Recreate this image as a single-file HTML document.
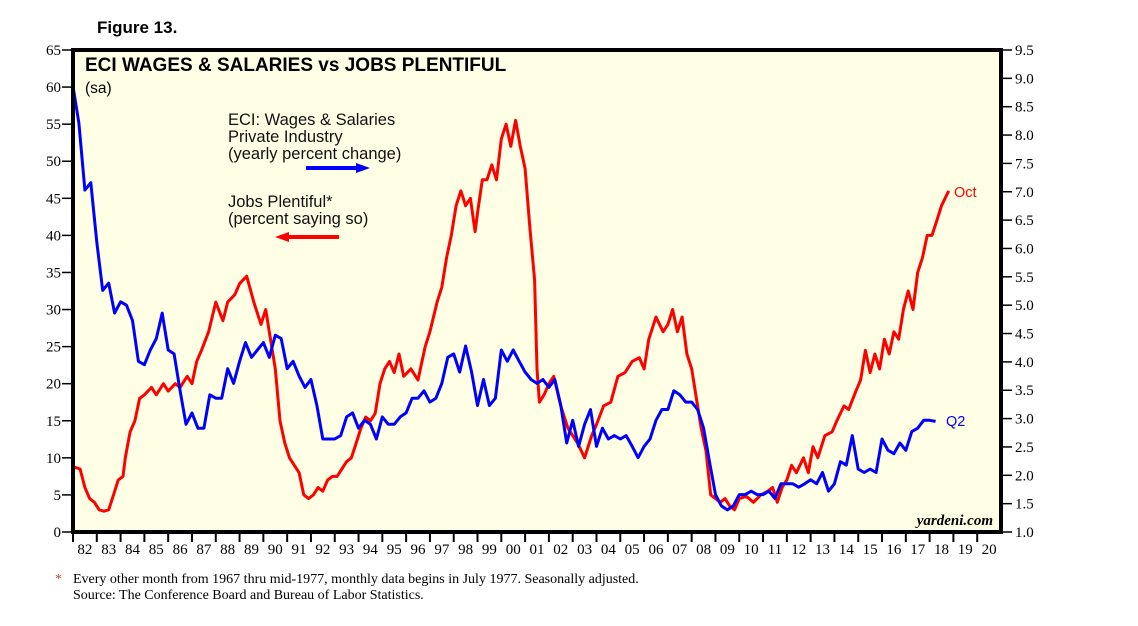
<!DOCTYPE html>
<html><head><meta charset="utf-8"><style>
body{margin:0;background:#fff;width:1138px;height:621px;overflow:hidden}
svg text{font-family:"Liberation Sans",sans-serif}
.serif{font-family:"Liberation Serif",serif !important}
</style></head><body>
<svg id="chart" width="1138" height="621" xmlns="http://www.w3.org/2000/svg">
<rect x="73" y="50" width="928" height="482" fill="#ffffe6"/>
<g id="ticks"></g>
<g id="series"></g>
<rect x="73" y="50" width="928" height="482" fill="none" stroke="#000" stroke-width="4"/>
<text x="97" y="33" font-size="17" font-weight="bold">Figure 13.</text>
<text x="85" y="71" font-size="19" font-weight="bold">ECI WAGES &amp; SALARIES vs JOBS PLENTIFUL</text>
<text x="85" y="93" font-size="15.5">(sa)</text>
<g font-size="16.5" fill="#111">
<text x="228" y="125">ECI: Wages &amp; Salaries</text>
<text x="228" y="142">Private Industry</text>
<text x="228" y="159">(yearly percent change)</text>
<line x1="306" y1="168" x2="358" y2="168" stroke="#0000ff" stroke-width="4"/>
<polygon points="356,163 370,168 356,173" fill="#0000ff"/>
</g>
<g font-size="16.5" fill="#111">
<text x="228" y="207">Jobs Plentiful*</text>
<text x="228" y="224">(percent saying so)</text>
<line x1="287" y1="237" x2="339" y2="237" stroke="#ff0000" stroke-width="4"/>
<polygon points="289,232 275,237 289,242" fill="#ff0000"/>
</g>
<text x="954" y="197" font-size="14.5" fill="#ff0000">Oct</text>
<text x="946" y="426" font-size="14.5" fill="#0000ff">Q2</text>
<text class="serif" x="993" y="525" font-size="15" font-weight="bold" font-style="italic" text-anchor="end">yardeni.com</text>
<text class="serif" x="55" y="583" font-size="14" fill="#a0522d">*</text>
<text class="serif" x="73" y="583" font-size="14">Every other month from 1967 thru mid-1977, monthly data begins in July 1977. Seasonally adjusted.</text>
<text class="serif" x="73" y="599" font-size="14">Source: The Conference Board and Bureau of Labor Statistics.</text>
</svg>
<script>
const leftTicks=[0,5,10,15,20,25,30,35,40,45,50,55,60,65];
const rightTicks=["1.0","1.5","2.0","2.5","3.0","3.5","4.0","4.5","5.0","5.5","6.0","6.5","7.0","7.5","8.0","8.5","9.0","9.5"];
const yearLabels=["82","83","84","85","86","87","88","89","90","91","92","93","94","95","96","97","98","99","00","01","02","03","04","05","06","07","08","09","10","11","12","13","14","15","16","17","18","19","20"];
const jobsDates=[1982.0,1982.3,1982.5,1982.7,1982.9,1983.1,1983.3,1983.5,1983.7,1983.9,1984.1,1984.2,1984.4,1984.6,1984.8,1985.0,1985.3,1985.5,1985.8,1986.0,1986.3,1986.5,1986.8,1987.0,1987.2,1987.4,1987.7,1988.0,1988.3,1988.5,1988.8,1989.0,1989.3,1989.6,1989.9,1990.1,1990.3,1990.5,1990.7,1990.9,1991.1,1991.3,1991.5,1991.7,1991.9,1992.1,1992.3,1992.5,1992.7,1992.9,1993.1,1993.3,1993.5,1993.7,1993.9,1994.1,1994.3,1994.5,1994.7,1994.9,1995.1,1995.3,1995.5,1995.7,1995.9,1996.2,1996.5,1996.8,1997.0,1997.3,1997.5,1997.7,1997.9,1998.1,1998.3,1998.5,1998.7,1998.9,1999.0,1999.2,1999.4,1999.6,1999.8,2000.0,2000.2,2000.4,2000.6,2000.8,2001.0,2001.2,2001.4,2001.5,2001.6,2001.8,2002.0,2002.2,2002.5,2002.8,2003.0,2003.2,2003.5,2003.8,2004.0,2004.3,2004.6,2004.9,2005.2,2005.5,2005.8,2006.0,2006.2,2006.5,2006.8,2007.0,2007.2,2007.4,2007.6,2007.8,2008.0,2008.2,2008.4,2008.6,2008.8,2009.0,2009.2,2009.4,2009.6,2009.8,2010.0,2010.3,2010.6,2010.9,2011.2,2011.4,2011.6,2011.8,2012.0,2012.2,2012.4,2012.7,2012.9,2013.1,2013.3,2013.6,2013.9,2014.1,2014.4,2014.6,2014.9,2015.1,2015.3,2015.5,2015.7,2015.9,2016.1,2016.3,2016.5,2016.7,2016.9,2017.1,2017.3,2017.5,2017.7,2017.9,2018.1,2018.3,2018.5,2018.8];
const jobsValues=[8.8,8.5,6,4.5,4,3,2.8,3,5,7,7.5,10,13.5,15,18,18.5,19.5,18.5,20,19,20,19.5,21,20,23,24.5,27,31,28.5,31,32,33.5,34.5,31,28,30,26,22,15,12,10,9,8,5,4.5,5,6,5.5,7,7.5,7.5,8.5,9.5,10,12,14,15.5,15,16,20,22,23,21.5,24,21,22,20.5,25,27,31,33,37,40,44,46,44,45,40.5,43,47.5,47.5,49.5,47.5,53,55,52,55.5,52,49,41,34,22,17.5,18.5,20,21,17,14,13,12,10,13,14.5,17,17.5,21,21.5,23,23.5,22,26,29,27,28,30,27,29,24,22,18,14,11,5,4.5,4,4.5,3.5,3,4.5,4.8,4,5,5.5,6,4,6,7,9,8,10,8,11.5,10,13,13.5,15,17,16.5,19,20.5,24.5,21.5,24,22,26,24,27,26,30,32.5,30,35,37,40,40,42,44,46];
const eciStart=1982.0;
const eciValues=[8.86,8.21,7.03,7.16, 6.11,5.26,5.39,4.86, 5.06,5.0,4.73,4.01, 3.95,4.21,4.41,4.86, 4.21,4.14,3.49,2.9, 3.1,2.83,2.83,3.42, 3.36,3.36,3.88,3.62, 4.01,4.34,4.08,4.21, 4.34,4.08,4.47,4.41, 3.88,4.01,3.75,3.55, 3.69,3.23,2.64,2.64, 2.64,2.7,3.03,3.1, 2.83,2.97,2.9,2.64, 3.03,2.9,2.9,3.03, 3.1,3.36,3.36,3.49, 3.29,3.36,3.62,4.08, 4.14,3.82,4.28,3.82, 3.23,3.69,3.23,3.36, 4.21,4.01,4.21,4.01, 3.82,3.69,3.62,3.69, 3.55,3.69,3.23,2.57, 2.97,2.51,2.9,3.16, 2.51,2.83,2.64,2.7, 2.64,2.7,2.51,2.31, 2.51,2.64,2.97,3.16, 3.16,3.49,3.42,3.29, 3.29,3.16,2.83,2.24, 1.66,1.46,1.39,1.46, 1.66,1.66,1.72,1.66, 1.66,1.72,1.59,1.85, 1.85,1.85,1.79,1.85, 1.92,1.85,2.05,1.72, 1.85,2.24,2.18,2.7, 2.11,2.05,2.11,2.05, 2.64,2.44,2.38,2.57, 2.44,2.77,2.83,2.97, 2.97,2.95];

const X0=73,X1=1001,YT=50,YB=532;
const x=y=>X0+(y-1982)*(X1-X0)/39;
const yL=v=>YB-v*(YB-YT)/65;
const yR=v=>YB-(v-1)*(YB-YT)/8.5;
const NS="http://www.w3.org/2000/svg";
const tg=document.getElementById('ticks'), sg=document.getElementById('series');
function mk(tag,attrs,parent){const e=document.createElementNS(NS,tag);for(const k in attrs)e.setAttribute(k,attrs[k]);parent.appendChild(e);return e;}
leftTicks.forEach(v=>{
  const l=mk('line',{x1:62,x2:73,y1:yL(v),y2:yL(v),stroke:'#000','stroke-width':1.5},tg);
  
  
  const t=mk('text',{x:61,y:yL(v)+5,'font-size':15,'text-anchor':'end',class:'serif'},tg);
  t.textContent=v;
  
  
});
rightTicks.forEach(s=>{
  const v=parseFloat(s);
  const l=mk('line',{x1:1001,x2:1012,y1:yR(v),y2:yR(v),stroke:'#000','stroke-width':1.5},tg);
  
  
  const t=mk('text',{x:1015,y:yR(v)+5,'font-size':15,class:'serif'},tg);
  t.textContent=s;
  
  
});
yearLabels.forEach((s,i)=>{
  const yr=1982+i;
  const l=mk('line',{x1:x(yr),x2:x(yr),y1:532,y2:542,stroke:'#000','stroke-width':2},tg);
  
  
  const t=mk('text',{x:x(yr+0.5),y:554,'font-size':15,'text-anchor':'middle',class:'serif'},tg);
  t.textContent=s;
  
  
});
const rp=mk('polyline',{points:jobsDates.map((d,i)=>x(d).toFixed(1)+','+yL(jobsValues[i]).toFixed(1)).join(' '),fill:'none',stroke:'#ff0000','stroke-width':3,'stroke-linejoin':'round'},sg);


const bp=mk('polyline',{points:eciValues.map((v,i)=>x(eciStart+i*0.25).toFixed(1)+','+yR(v).toFixed(1)).join(' '),fill:'none',stroke:'#0000ff','stroke-width':3,'stroke-linejoin':'round'},sg);


</script>
</body></html>
